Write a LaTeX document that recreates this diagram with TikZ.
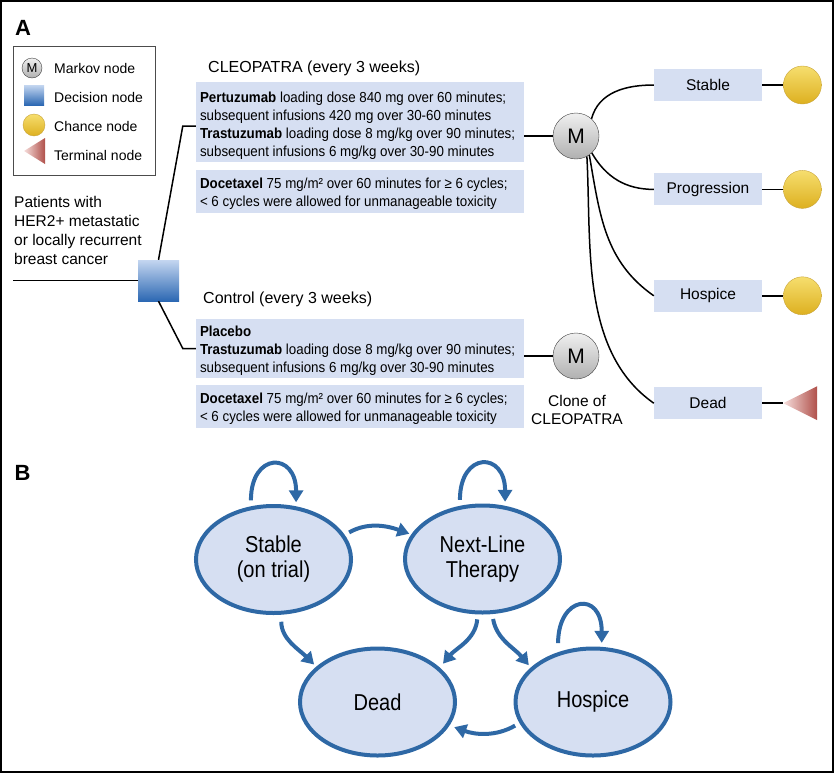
\documentclass[tikz,border=0pt]{standalone}
\usepackage{fontspec}
\setmainfont{Liberation Sans}
\newfontfamily\narrowfont{Liberation Sans}[FakeStretch=0.92]
\newfontfamily\statefont{Liberation Sans}[FakeStretch=0.87]
\usetikzlibrary{arrows.meta,positioning,shapes.geometric}
\definecolor{boxfill}{HTML}{D6DFF2}
\definecolor{flowblue}{HTML}{2E68A5}
\definecolor{termlight}{HTML}{F6DEDC}
\definecolor{termdark}{HTML}{B0504A}
\newcommand\drugfont{\narrowfont\fontsize{14.5}{18}\selectfont\hyphenpenalty=10000\relax}
\newcommand\drugstrut[1]{\rule{0pt}{#1}}
\tikzset{
    %Define standard arrow tip
    >={Triangle[length=12pt,width=14pt]},
    %Define style for the drug boxes
    drugbox/.style={
           rectangle,
           fill=boxfill,
           text width=320pt,
           inner xsep=4pt,
           inner ysep=0pt,
           align=flush left,
           font=\drugfont},
    % Define style for the health state boxes
    statebox/.style={
           rectangle,
           fill=boxfill,
           minimum width=108pt,
           minimum height=32pt,
           font=\fontsize{15.5}{18}\selectfont},
    % Define style for plain labels
    lbl/.style={
           inner sep=0pt,
           font=\fontsize{16}{19}\selectfont},
    % Define styles for the tree symbols
    markov/.style={
           circle,
           draw=black!75,
           top color=gray!12,
           bottom color=gray!62,
           minimum size=46pt,
           inner sep=0pt,
           font=\fontsize{21}{21}\selectfont},
    decision/.style={
           rectangle,
           top color={rgb,255:red,196;green,214;blue,240},
           bottom color={rgb,255:red,44;green,104;blue,179},
           minimum size=41pt,
           inner sep=0pt},
    chance/.style={
           circle,
           draw={rgb,255:red,200;green,164;blue,58},
           top color={rgb,255:red,246;green,222;blue,110},
           bottom color={rgb,255:red,221;green,176;blue,32},
           minimum size=38pt,
           inner sep=0pt},
    treeline/.style={
           line width=1.5pt},
    % Define style for the Markov states
    mstate/.style={
           ellipse,
           draw=flowblue,
           line width=4pt,
           fill=boxfill,
           minimum width=155pt,
           minimum height=107pt,
           align=center,
           font=\statefont\fontsize{23}{25}\selectfont},
    % Define arrow style
    flow/.style={
           ->,
           draw=flowblue,
           line width=4pt}
}

\begin{document}
\begin{tikzpicture}[x=1pt,y=-1pt]
\useasboundingbox (0,0) rectangle (837,774);
\draw[line width=1.5pt] (1,1) rectangle (833,772);

% panel A
\node[font=\bfseries\fontsize{22}{22}\selectfont] (labA) at (23,28) {A};

% legend
\draw[line width=1pt, black!70] (13,46) rectangle (155,175);
\node[markov, minimum size=20pt, font=\fontsize{13}{13}\selectfont] (lgM) at (32,68) {M};
\node[decision, minimum size=20pt] (lgD) at (34,95) {};
\node[chance, minimum size=22pt] (lgC) at (34,125) {};
\shade[left color=termlight, right color=termdark] (24,151) -- (45,138) -- (45,164) -- cycle;
\node[lbl, anchor=west, font=\fontsize{14}{14}\selectfont] (lgMt) at (54,68) {Markov node};
\node[lbl, anchor=west, font=\fontsize{14}{14}\selectfont] (lgDt) at (54,97) {Decision node};
\node[lbl, anchor=west, font=\fontsize{14}{14}\selectfont] (lgCt) at (54,126) {Chance node};
\node[lbl, anchor=west, font=\fontsize{14}{14}\selectfont] (lgTt) at (54,155) {Terminal node};

% decision tree
\node[lbl, anchor=west, align=left, font=\fontsize{15.5}{19}\selectfont] (pat) at (14,230.5) {Patients with\\HER2+ metastatic\\or locally recurrent\\breast cancer};
\coordinate (patL) at (13,280.5);
\node[decision] (dec) at (158.5,280.5) {};

\node[lbl, anchor=west] (cleoT) at (208,68) {CLEOPATRA (every 3 weeks)};
\node[drugbox, minimum height=80pt] (cleoP) at (360,122) {\drugstrut{19pt}\textbf{Pertuzumab} loading dose 840 mg over 60 minutes;\\subsequent infusions 420 mg over 30-60 minutes\\\textbf{Trastuzumab} loading dose 8 mg/kg over 90 minutes;\\subsequent infusions 6 mg/kg over 30-90 minutes};
\node[drugbox, minimum height=43pt, below=8pt of cleoP] (cleoD) {\drugstrut{15pt}\textbf{Docetaxel} 75 mg/m² over 60 minutes for ≥ 6 cycles;\\< 6 cycles were allowed for unmanageable toxicity};

\node[lbl, anchor=west] (ctrlT) at (203,299) {Control (every 3 weeks)};
\node[drugbox, minimum height=59pt] (ctrlP) at (360,348.5) {\drugstrut{14pt}\textbf{Placebo}\\\textbf{Trastuzumab} loading dose 8 mg/kg over 90 minutes;\\subsequent infusions 6 mg/kg over 30-90 minutes};
\node[drugbox, minimum height=43pt, below=7pt of ctrlP] (ctrlD) {\drugstrut{15pt}\textbf{Docetaxel} 75 mg/m² over 60 minutes for ≥ 6 cycles;\\< 6 cycles were allowed for unmanageable toxicity};

\node[markov] (mkA) at (576,136) {M};
\node[markov] (mkB) at (576,356) {M};
\node[lbl, align=center, font=\fontsize{15.5}{18}\selectfont] (clone) at (577,410) {Clone of\\CLEOPATRA};

\node[statebox] (stab) at (708,85) {Stable};
\node[statebox, below=72pt of stab] (prog) {Progression};
\node[statebox, below=74pt of prog] (hosp) {Hospice};
\node[statebox, below=75pt of hosp] (dead) {Dead};
\node[chance, right=21pt of stab] (chS) {};
\node[chance, right=21pt of prog] (chP) {};
\node[chance, right=21pt of hosp] (chH) {};
\coordinate[right=21pt of dead] (term);
\shade[left color=termlight, right color=termdark] (term) -- ++(34,-17) -- ++(0,34) -- cycle;

\draw[treeline] (patL) -- (dec.west);
\draw[treeline] (dec.north) -- ([xshift=-13pt,yshift=-4pt]cleoP.west) -- ([yshift=-4pt]cleoP.west);
\draw[treeline] (dec.south) -- ([xshift=-13pt]ctrlP.west) -- (ctrlP.west);
\draw[treeline] (mkA.west -| cleoP.east) -- (mkA.west);
\draw[treeline] (mkB.west -| ctrlP.east) -- (mkB.west);
\draw[treeline] (mkA.48) to[out=75,in=180] (stab.west);
\draw[treeline] (mkA.-47) to[out=-60,in=180] (prog.west);
\draw[treeline] (mkA.-55) to[out=-80,in=145] (hosp.west);
\draw[treeline] (mkA.-62) to[out=-87,in=145,looseness=0.9] (dead.west);
\draw[treeline] (stab) -- (chS);
\draw[treeline] (prog) -- (chP);
\draw[treeline] (hosp) -- (chH);
\draw[treeline] (dead) -- (term);

% panel B
\node[font=\bfseries\fontsize{22}{22}\selectfont] (labB) at (22.5,473) {B};
\node[mstate] (st) at (273.5,559.5) {Stable\\(on trial)};
\node[mstate] (nl) at (482.5,559) {Next-Line\\Therapy};
\node[mstate] (dd) at (377.5,702) {Dead};
\node[mstate] (hs) at (593,702) {Hospice};

\draw[flow, shorten <=6pt, shorten >=4pt] (st.113) to[out=90,in=90,looseness=3.1] (st.67);
\draw[flow, shorten <=6pt, shorten >=4pt] (nl.113) to[out=90,in=90,looseness=3.1] (nl.67);
\draw[flow, shorten <=9pt, shorten >=4pt] (hs.125) to[out=90,in=90,looseness=3.3] (hs.81);
\draw[flow, shorten <=5pt, shorten >=2pt] (st.19) to[out=30,in=160] (nl.161);
\draw[flow, shorten <=7pt, shorten >=3pt] (st.-82) to[out=-90,in=135] (dd.150);
\draw[flow, shorten <=5pt, shorten >=5pt] (nl.-95) to[out=-95,in=50] (dd.29);
\draw[flow, shorten <=5pt, shorten >=3pt] (nl.-80) to[out=-80,in=130] (hs.151);
\draw[flow, shorten <=5pt, shorten >=5pt] (hs.196) to[out=210,in=-20] (dd.-18);
\end{tikzpicture}
\end{document}
